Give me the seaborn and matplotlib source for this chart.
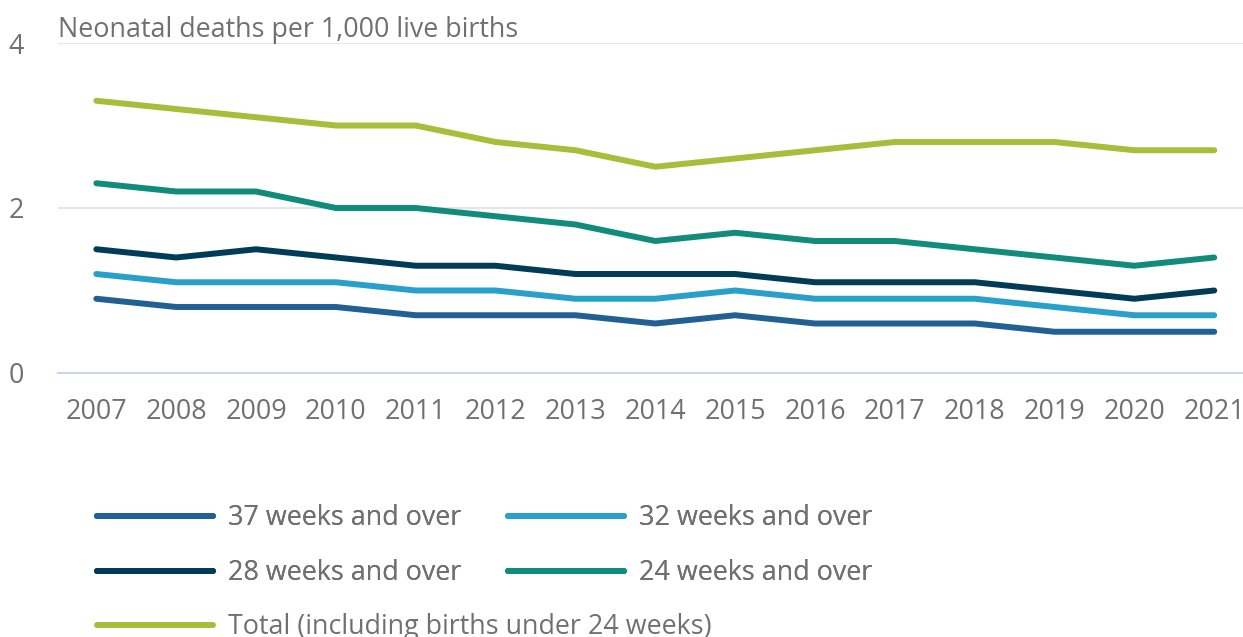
import pandas as pd
import matplotlib.pyplot as plt
import seaborn as sns

years = list(range(2007, 2022))
w37 = [0.9, 0.8, 0.8, 0.8, 0.7, 0.7, 0.7, 0.6, 0.7, 0.6, 0.6, 0.6, 0.5, 0.5, 0.5]
w32 = [1.2, 1.1, 1.1, 1.1, 1.0, 1.0, 0.9, 0.9, 1.0, 0.9, 0.9, 0.9, 0.8, 0.7, 0.7]
w28 = [1.5, 1.4, 1.5, 1.4, 1.3, 1.3, 1.2, 1.2, 1.2, 1.1, 1.1, 1.1, 1.0, 0.9, 1.0]
w24 = [2.3, 2.2, 2.2, 2.0, 2.0, 1.9, 1.8, 1.6, 1.7, 1.6, 1.6, 1.5, 1.4, 1.3, 1.4]
total = [3.3, 3.2, 3.1, 3.0, 3.0, 2.8, 2.7, 2.5, 2.6, 2.7, 2.8, 2.8, 2.8, 2.7, 2.7]

labels = ["37 weeks and over", "32 weeks and over", "28 weeks and over",
          "24 weeks and over", "Total (including births under 24 weeks)"]
colors = ["#206095", "#27a0cc", "#003c57", "#118c7b", "#a8bd3a"]

df = pd.DataFrame({"year": years, labels[0]: w37, labels[1]: w32, labels[2]: w28,
                   labels[3]: w24, labels[4]: total})
long_df = df.melt(id_vars="year", var_name="series", value_name="rate")

sns.set_style("white")
plt.rcParams['font.family'] = ['Open Sans', 'DejaVu Sans']
text_col = "#707070"
fs = 19.4

fig = plt.figure(figsize=(12.43, 6.37), dpi=100)
ax = fig.add_axes([58 / 1243, 1 - 373 / 637, 1 - 58 / 1243, (373 - 43) / 637])

sns.lineplot(data=long_df, x="year", y="rate", hue="series", hue_order=labels,
             palette=dict(zip(labels, colors)), linewidth=4.3, legend=False, ax=ax)
for ln in ax.lines:
    ln.set_solid_capstyle("round")
    ln.set_solid_joinstyle("round")

ax.set_xlim(2006.52, 2021.36)
ax.set_ylim(0, 4)
ax.set_xticks(years)
ax.set_xticklabels([str(y) for y in years])
ax.set_yticks([0, 2, 4])
ax.set_xlabel("")
ax.set_ylabel("")

for s in ["top", "right", "left"]:
    ax.spines[s].set_visible(False)
ax.spines["bottom"].set_color("#ccd6eb")
ax.spines["bottom"].set_linewidth(1.5)
ax.yaxis.grid(True, color="#e6e6e6", linewidth=1.5)
ax.set_axisbelow(True)
ax.tick_params(axis="x", length=14.4, width=1.5, color="#ccd6eb", pad=3.5,
               labelsize=fs, labelcolor=text_col)
ax.tick_params(axis="y", length=0, pad=24.5, labelsize=fs, labelcolor=text_col)

fig.text(58 / 1243, 1 - 37 / 637, "Neonatal deaths per 1,000 live births",
         fontsize=fs, color=text_col, va="baseline", ha="left")

handles = [plt.Line2D([], [], color=c, linewidth=4.3) for c in colors]
leg1 = fig.legend([handles[0], handles[2], handles[1], handles[3]],
                  [labels[0], labels[2], labels[1], labels[3]],
                  ncol=2, loc="upper left", bbox_to_anchor=(97 / 1243, 1 - 504 / 637),
                  frameon=False, fontsize=fs, labelcolor=text_col,
                  handlelength=4.3, handletextpad=0.56, columnspacing=1.75,
                  labelspacing=1.0, borderpad=0, borderaxespad=0)
fig.add_artist(leg1)
fig.legend([handles[4]], [labels[4]], loc="upper left",
           bbox_to_anchor=(97 / 1243, 1 - 613 / 637),
           frameon=False, fontsize=fs, labelcolor=text_col,
           handlelength=4.3, handletextpad=0.56, borderpad=0, borderaxespad=0)

plt.savefig("out.png", dpi=100)
